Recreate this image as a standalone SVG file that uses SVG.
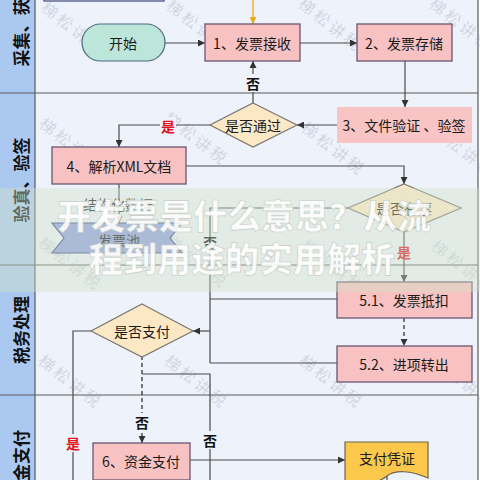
<svg xmlns="http://www.w3.org/2000/svg" width="480" height="480" viewBox="0 0 480 480">
<defs>
<style>
.lane{fill:#eef2fb}
.hdr{fill:#aac8f0}
.sep{stroke:#5a5a5a;stroke-width:1.2;fill:none}
.lt{font-family:"Noto Sans CJK SC",sans-serif;font-size:17px;font-weight:bold;fill:#111;text-anchor:middle;dominant-baseline:central}
.pk{fill:#f8c2c2;stroke:#6a5573;stroke-width:1.3}
.dm{fill:#fde8c6;stroke:#7a7670;stroke-width:1.2}
.t{font-family:"Noto Sans CJK SC",sans-serif;font-size:14px;fill:#1a1a1a;text-anchor:middle;dominant-baseline:central}
.c{stroke:#4a4a4a;stroke-width:1.2;fill:none}
.d{stroke:#333;stroke-width:1.3;fill:none;stroke-dasharray:4 3}
.no{font-family:"Noto Sans CJK SC",sans-serif;font-size:14px;font-weight:bold;fill:#111;text-anchor:middle;dominant-baseline:central}
.yes{font-family:"Noto Sans CJK SC",sans-serif;font-size:14px;font-weight:bold;fill:#e0141e;text-anchor:middle;dominant-baseline:central}
.wm{font-family:"Noto Sans CJK SC",sans-serif;font-size:16px;fill:#9aa0ae;fill-opacity:0.35;letter-spacing:3px}
.ti{font-family:"Noto Sans CJK SC",sans-serif;font-size:34px;font-weight:900;fill:#ffffff;fill-opacity:0.88;stroke:#c4ccc4;stroke-width:0.6;text-anchor:middle}
</style>
<marker id="a" markerUnits="userSpaceOnUse" markerWidth="7" markerHeight="7" refX="7" refY="3.5" orient="auto"><path d="M0,0 L7,3.5 L0,7 z" fill="#333"/></marker>
<marker id="ay" markerUnits="userSpaceOnUse" markerWidth="7" markerHeight="7" refX="7" refY="3.5" orient="auto"><path d="M0,0 L7,3.5 L0,7 z" fill="#e8a820"/></marker>
</defs>

<g id="lanes">
<rect class="lane" x="35" y="0" width="443" height="480"/>
<rect class="hdr" x="0" y="0" width="35" height="480"/>
<line class="sep" x1="35" y1="0" x2="35" y2="480"/>
<line class="sep" x1="478" y1="0" x2="478" y2="480"/>
<line class="sep" x1="0" y1="93" x2="478" y2="93"/>
<line class="sep" x1="0" y1="265" x2="478" y2="265"/>
<line class="sep" x1="0" y1="395" x2="478" y2="395"/>
<text class="lt" transform="translate(20,24) rotate(-90)">采集、获取</text>
<text class="lt" transform="translate(20,180) rotate(-90)">验真、验签</text>
<text class="lt" transform="translate(20,330) rotate(-90)">税务处理</text>
<text class="lt" transform="translate(20,464) rotate(-90)">资金支付</text>
</g>

<g id="watermarks">
<text class="wm" transform="translate(40,10) rotate(38)">梯松讲税</text>
<text class="wm" transform="translate(165,8) rotate(38)">梯松讲税</text>
<text class="wm" transform="translate(297,6) rotate(38)">梯松讲税</text>
<text class="wm" transform="translate(428,6) rotate(38)">梯松讲税</text>
<text class="wm" transform="translate(38,126) rotate(38)">梯松讲税</text>
<text class="wm" transform="translate(163,120) rotate(38)">梯松讲税</text>
<text class="wm" transform="translate(300,130) rotate(38)">梯松讲税</text>
<text class="wm" transform="translate(430,132) rotate(38)">梯松讲税</text>
<text class="wm" transform="translate(37,245) rotate(38)">梯松讲税</text>
<text class="wm" transform="translate(163,243) rotate(38)">梯松讲税</text>
<text class="wm" transform="translate(300,248) rotate(38)">梯松讲税</text>
<text class="wm" transform="translate(430,248) rotate(38)">梯松讲税</text>
<text class="wm" transform="translate(37,363) rotate(38)">梯松讲税</text>
<text class="wm" transform="translate(163,363) rotate(38)">梯松讲税</text>
<text class="wm" transform="translate(298,363) rotate(38)">梯松讲税</text>
<text class="wm" transform="translate(430,363) rotate(38)">梯松讲税</text>
</g>

<g id="connectors">
<path d="M253,0 V24" stroke="#f0b428" stroke-width="1.5" fill="none" marker-end="url(#ay)"/>
<path class="c" d="M165,43 H205" marker-end="url(#a)"/>
<path class="c" d="M300,43 H357" marker-end="url(#a)"/>
<path class="c" d="M405,61 V107" marker-end="url(#a)"/>
<path class="c" d="M337,125 H297" marker-end="url(#a)"/>
<path class="c" d="M253,103 V61" marker-end="url(#a)"/>
<path class="c" d="M210,125 H119 V147" marker-end="url(#a)"/>
<path class="c" d="M186,166 H404 V184" marker-end="url(#a)"/>
<path class="c" d="M119,184 V223" marker-end="url(#a)"/>
<path class="c" d="M404,232 V282" marker-end="url(#a)"/>
<path class="c" d="M348,208 H210 V363"/>
<path class="c" d="M337,299 H210"/>
<path class="c" d="M337,363 H210"/>
<path class="c" d="M210,331 H193" marker-end="url(#a)"/>
<path class="d" d="M404,318 V346" marker-end="url(#a)"/>
<path class="d" d="M142,356 V443" marker-end="url(#a)"/>
<path class="c" d="M91,331 H73 V480"/>
<path class="c" d="M142,374 H210 V480"/>
<path class="c" d="M190,460 H345" marker-end="url(#a)"/>
<path class="c" d="M387,476 V480"/>
<rect x="245" y="74" width="16" height="18" fill="#eef2fb"/>
<text class="no" x="253" y="83">否</text>
<rect x="160" y="117" width="16" height="18" fill="#eef2fb"/>
<text class="yes" x="168" y="126">是</text>
<text class="no" x="210" y="242">否</text>
<text class="yes" x="404" y="252">是</text>
<rect x="134" y="413" width="16" height="18" fill="#eef2fb"/>
<text class="no" x="142" y="422">否</text>
<rect x="65" y="434" width="16" height="18" fill="#eef2fb"/>
<text class="yes" x="73" y="443">是</text>
<rect x="202" y="431" width="16" height="18" fill="#eef2fb"/>
<text class="no" x="210" y="440">否</text>
</g>

<g id="top-node"><rect x="44" y="-40" width="120" height="41" fill="#eef2fb" stroke="#4e5288" stroke-width="1.3"/></g>
<g id="start"><rect x="82" y="24" width="83" height="37" rx="18.5" fill="#bde6da" stroke="#4a6a80" stroke-width="1.2"/><text class="t" x="123" y="43">开始</text></g>
<g id="n1"><rect class="pk" x="205" y="24" width="95" height="37"/><text class="t" x="252" y="43">1、发票接收</text></g>
<g id="n2"><rect class="pk" x="357" y="24" width="95" height="37"/><text class="t" x="404" y="43">2、发票存储</text></g>
<g id="n3"><rect x="337" y="107" width="135" height="36" fill="#f9c4c4"/><text class="t" x="404" y="125">3、文件验证 、验签</text></g>
<g id="d1"><polygon class="dm" points="253,103 297,125 253,147 210,125"/><text class="t" x="253" y="125">是否通过</text></g>
<g id="n4"><rect class="pk" x="52" y="147" width="134" height="37"/><text class="t" x="119" y="166">4、解析XML文档</text></g>
<g id="lbl"><text class="t" x="118" y="204" font-size="13" fill="#333">结构化数据</text></g>
<g id="pool"><polygon points="52,223 182,223 170,238 182,253 52,253 64,238" fill="#8f9fe2" stroke="#3e4a8a" stroke-width="1.2"/><text class="t" x="119" y="240">发票池</text></g>
<g id="d2"><polygon class="dm" points="404,184 461,208 404,232 348,208"/><text class="t" x="404" y="208">是否有票</text></g>
<g id="n51"><rect class="pk" x="337" y="282" width="135" height="36"/><text class="t" x="404" y="300">5.1、发票抵扣</text></g>
<g id="n52"><rect class="pk" x="337" y="346" width="135" height="36"/><text class="t" x="404" y="364">5.2、进项转出</text></g>
<g id="d3"><polygon class="dm" points="142,304 193,331 142,357 91,331"/><text class="t" x="142" y="331">是否支付</text></g>
<g id="n6"><rect class="pk" x="93" y="443" width="97" height="37"/><text class="t" x="141" y="461">6、资金支付</text></g>
<g id="voucher"><path d="M345,442 H428 V478 C410,470 395,470 387,476 C375,485 360,486 345,480 Z" fill="#fcc84c" stroke="#6e6250" stroke-width="1.2"/><text class="t" x="387" y="458">支付凭证</text></g>

<g id="banner">
<rect x="0" y="188" width="480" height="104" fill="#d2e2c8" fill-opacity="0.42"/>
<text class="ti" x="244" y="229">开发票是什么意思？从流</text>
<text class="ti" x="242" y="272">程到用途的实用解析</text>
</g>
</svg>
